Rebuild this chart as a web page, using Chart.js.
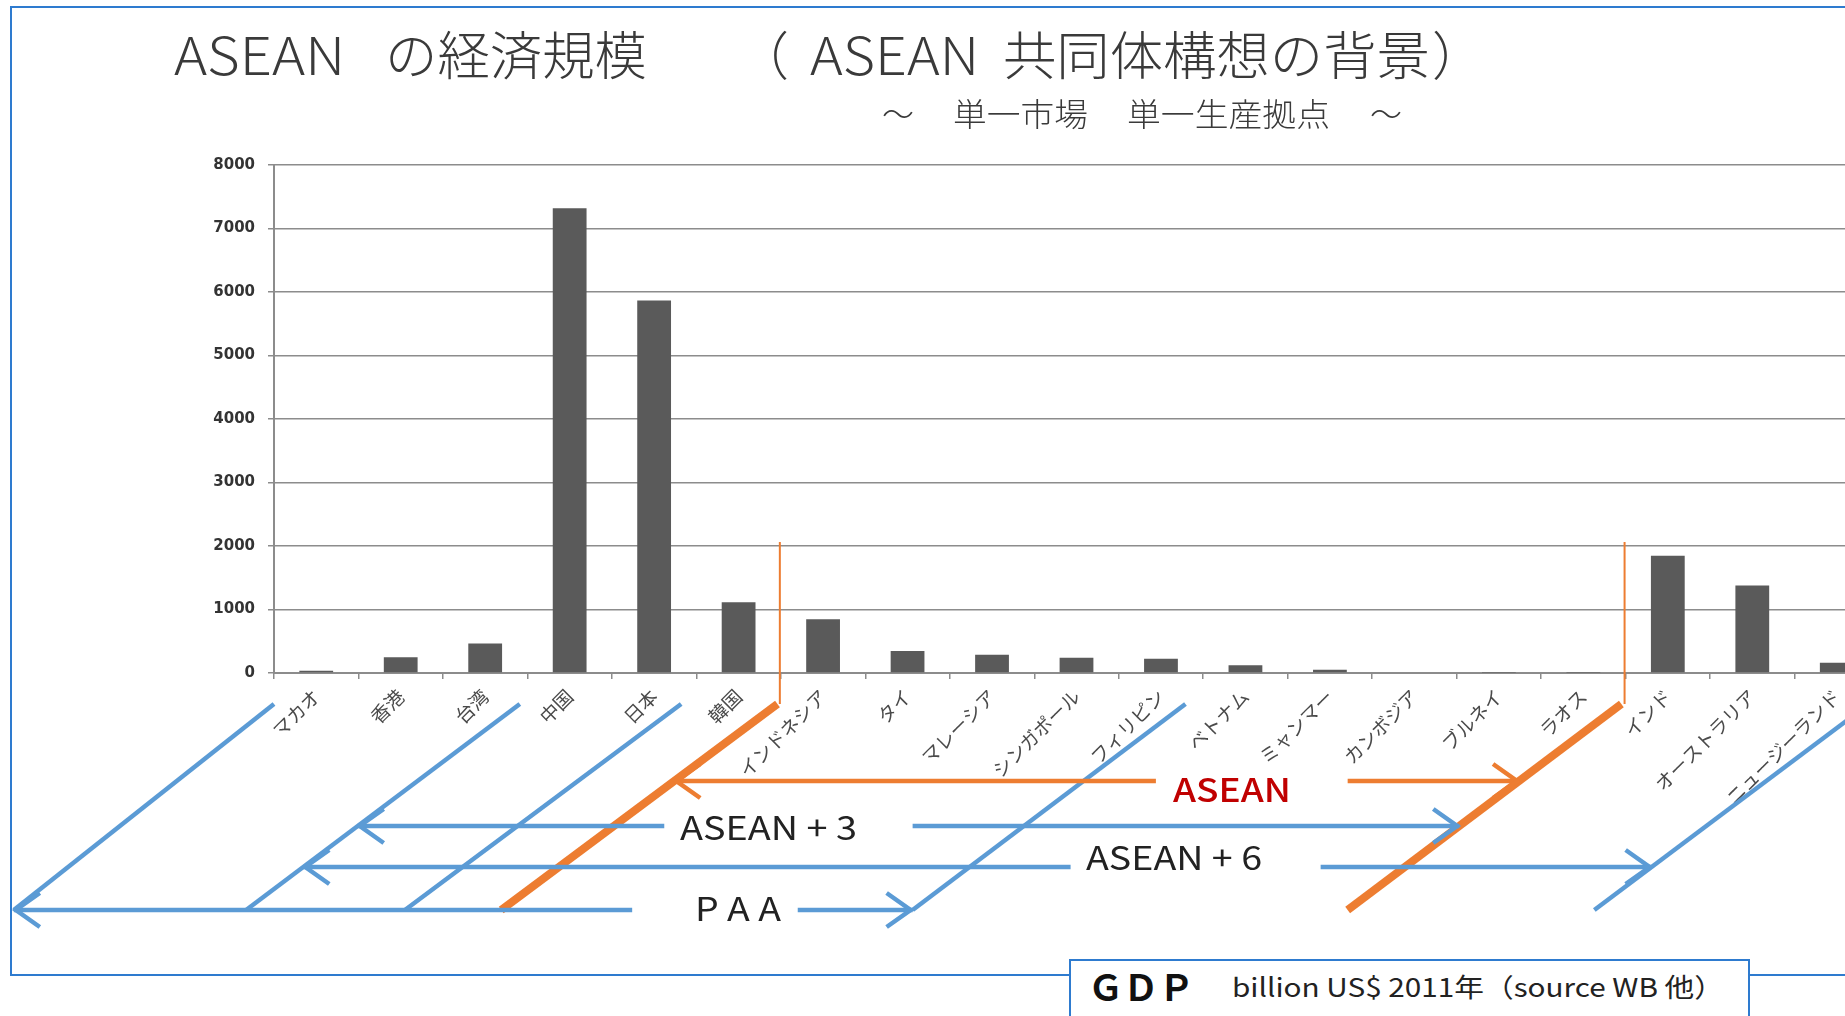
<!DOCTYPE html>
<html lang="ja">
<head>
<meta charset="utf-8">
<title>ASEAN の経済規模</title>
<script src="https://cdn.jsdelivr.net/npm/chart.js@4.4.1/dist/chart.umd.min.js"></script>
<style>
  html, body { margin: 0; padding: 0; background: #fff; overflow: hidden; }
  body { width: 1845px; height: 1016px; position: relative; font-family: "Noto Sans CJK JP", "Noto Sans", sans-serif; }
  #frame { position: absolute; left: 10px; top: 6px; width: 1900px; height: 970px; border: 2px solid #2e7bcf; box-sizing: border-box; }
  #chart { position: absolute; left: 0; top: 0; }
  .t { position: absolute; white-space: nowrap; line-height: 1; color: #3a3a3a; transform-origin: left center; }
  #gdp { position: absolute; left: 1069px; top: 959px; width: 681px; height: 80px; border: 2px solid #2e7bcf; background: #fff; box-sizing: border-box; }
</style>
</head>
<body>
<div id="frame"></div>
<canvas id="chart" width="1900" height="1016"></canvas>
<div id="gdp"></div>
<script>
// GDP 2011, billion US$
const categories = ['マカオ', '香港', '台湾', '中国', '日本', '韓国', 'インドネシア', 'タイ', 'マレーシア',
  'シンガポール', 'フィリピン', 'ベトナム', 'ミャンマー', 'カンボジア', 'ブルネイ', 'ラオス',
  'インド', 'オーストラリア', 'ニュージーランド'];
const gdp2011 = [37, 248, 466, 7318, 5867, 1116, 846, 346, 288, 240, 225, 124, 50, 13, 3, 3, 1848, 1379, 160];
const yTicks = [0, 1000, 2000, 3000, 4000, 5000, 6000, 7000, 8000];

const BLUE = '#5b9bd5';
const ORANGE = '#ed7d31';

// diagonal guide lines, in category units (top end / bottom end)
const diagonals = {
  d1: { top: 0, bottom: -3.08, color: BLUE, width: 4.5 },
  d2: { top: 2.91, bottom: -0.33, color: BLUE, width: 4.5 },
  d3: { top: 4.82, bottom: 1.55, color: BLUE, width: 4.5 },
  oL: { top: 5.96, bottom: 2.69, color: ORANGE, width: 8 },
  d4: { top: 10.79, bottom: 7.56, color: BLUE, width: 4.5 },
  oR: { top: 15.95, bottom: 12.71, color: ORANGE, width: 8 },
  d5: { top: 18.88, bottom: 15.63, color: BLUE, width: 4.5 }
};

// grouping arrows: row offset below axis, ends on diagonals, gap left for the label
const arrows = [
  { dy: 108, from: 'oL', to: 'oR', gap: [10.44, 12.71], color: ORANGE },
  { dy: 153, from: 'd2', to: 'oR', gap: [4.62, 7.56], color: BLUE },
  { dy: 194, from: 'd2', to: 'd5', gap: [9.43, 12.39], color: BLUE },
  { dy: 237, from: 'd1', to: 'd4', gap: [4.24, 6.20], color: BLUE }
];

const decor = {
  id: 'decor',
  afterDraw(chart) {
    const ctx = chart.ctx;
    const xs = chart.scales.x;
    const y0 = chart.chartArea.bottom;
    const w = xs.width / categories.length;
    const px = k => xs.left + k * w;
    const yTop = y0 + 31, yBot = y0 + 237;

    function diagX(d, y) {
      const x1 = px(d.top), x2 = px(d.bottom);
      return x1 + (x2 - x1) * (y - yTop) / (yBot - yTop);
    }

    ctx.save();
    ctx.lineCap = 'butt';

    // thin orange separators from the plot down to the ASEAN diagonals
    ctx.strokeStyle = ORANGE;
    ctx.lineWidth = 2;
    [6, 16].forEach(k => {
      ctx.beginPath();
      ctx.moveTo(px(k) - 1, y0 - 131);
      ctx.lineTo(px(k) - 1, yTop);
      ctx.stroke();
    });

    Object.values(diagonals).forEach(d => {
      ctx.strokeStyle = d.color;
      ctx.lineWidth = d.width;
      ctx.beginPath();
      ctx.moveTo(px(d.top), yTop);
      ctx.lineTo(px(d.bottom), yBot);
      ctx.stroke();
    });

    arrows.forEach(a => {
      const y = y0 + a.dy;
      const xl = diagX(diagonals[a.from], y);
      const xr = diagX(diagonals[a.to], y);
      ctx.strokeStyle = a.color;
      ctx.lineWidth = 4.5;
      ctx.beginPath();
      ctx.moveTo(xl, y); ctx.lineTo(px(a.gap[0]), y);
      ctx.moveTo(px(a.gap[1]), y); ctx.lineTo(xr, y);
      ctx.stroke();
      ctx.beginPath();
      ctx.moveTo(xl + 26, y - 17); ctx.lineTo(xl + 2, y); ctx.lineTo(xl + 26, y + 17);
      ctx.moveTo(xr - 26, y - 17); ctx.lineTo(xr - 2, y); ctx.lineTo(xr - 26, y + 17);
      ctx.stroke();
    });
    ctx.restore();
  }
};

const chart = new Chart(document.getElementById('chart'), {
  type: 'bar',
  data: {
    labels: categories,
    datasets: [{
      data: gdp2011,
      backgroundColor: '#5a5a5a',
      borderWidth: 0,
      barPercentage: 0.4,
      categoryPercentage: 1.0
    }]
  },
  options: {
    responsive: false,
    animation: false,
    devicePixelRatio: 1,
    layout: { padding: { left: 0, right: 21, top: 165, bottom: 0 } },
    plugins: { legend: { display: false }, tooltip: { enabled: false } },
    scales: {
      x: {
        grid: { drawOnChartArea: false, drawTicks: true, tickLength: 6, offset: true, color: '#8c8c8c', lineWidth: 1.5 },
        border: { color: '#8c8c8c', width: 2 },
        ticks: {
          autoSkip: false, minRotation: 45, maxRotation: 45, padding: 6, color: '#4a4a4a',
          font: { family: '"Noto Sans CJK JP"', size: 19, weight: 400 }
        },
        afterFit: s => { s.height = 1016 - 673; }
      },
      y: {
        min: 0, max: 8000,
        afterBuildTicks: s => { s.ticks = yTicks.map(v => ({ value: v })); },
        grid: { color: '#8c8c8c', lineWidth: 1.5, tickLength: 6 },
        border: { color: '#8c8c8c', width: 2 },
        ticks: {
          padding: 13, color: '#333',
          font: { family: '"DejaVu Sans"', size: 15, weight: 'bold' },
          callback: v => String(v)
        },
        afterFit: s => { s.width = 274; }
      }
    }
  },
  plugins: [decor]
});

// text pieces, stretched to the widths seen in the reference
function putText(txt, left, cy, size, width, style) {
  const el = document.createElement('div');
  el.className = 't';
  el.textContent = txt;
  el.style.fontSize = size + 'px';
  Object.assign(el.style, style || {});
  document.body.appendChild(el);
  const w = el.getBoundingClientRect().width;
  el.style.left = left + 'px';
  el.style.top = (cy - size * 0.57) + 'px';
  if (width) el.style.transform = 'scaleX(' + (width / w) + ')';
  return el;
}

const light = { fontWeight: 300 };
putText('ASEAN', 174, 57, 52, 171, light);
putText('の経済規模', 385, 57, 52, 262, light);
putText('（', 737, 57, 52, 0, light);
putText('ASEAN', 810, 57, 52, 169, light);
putText('共同体構想の背景', 1003, 57, 52, 427, light);
putText('）', 1432, 57, 52, 0, light);

putText('～', 882, 114, 32, 0, light);
putText('単一市場', 953, 114, 32, 135, light);
putText('単一生産拠点', 1127, 114, 32, 203, light);
putText('～', 1370, 114, 32, 0, light);

putText('ASEAN', 1173, 791, 33, 118, { color: '#c00000', fontWeight: 500 });
putText('ASEAN + 3', 680, 829, 33, 177, { color: '#222' });
putText('ASEAN + 6', 1086, 859, 33, 176, { color: '#222' });
putText('P A A', 695, 910, 33, 86, { color: '#222' });

putText('ＧＤＰ', 1088, 988, 36, 106, { color: '#111', fontWeight: 700, zIndex: 2 });
putText('billion US$  2011年（source WB 他）', 1232, 988, 26, 492, { color: '#222', zIndex: 2 });
</script>
</body>
</html>
